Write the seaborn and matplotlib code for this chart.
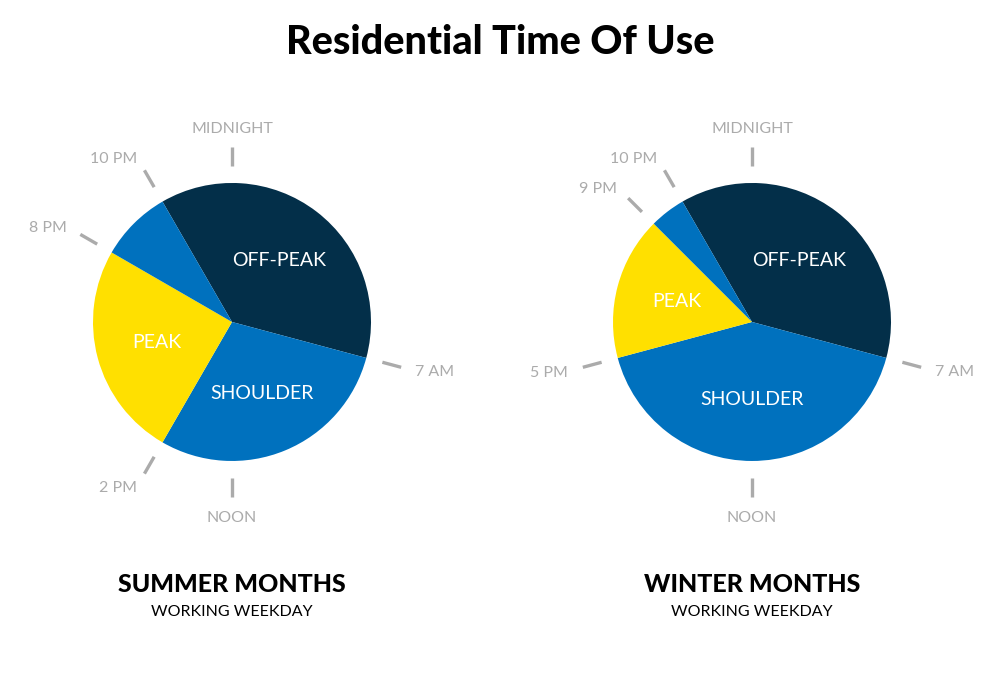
import numpy as np
import seaborn as sns
import matplotlib.pyplot as plt

# -----------------------------
# Data (hours of a 24h day, starting at 10 PM and going clockwise)
# -----------------------------
periods = ["OFF-PEAK", "SHOULDER", "PEAK", ""]
summer_hours = [9, 7, 6, 2]
winter_hours = [9, 10, 4, 1]

summer_ticks = [0, 7, 12, 14, 20, 22]
summer_tick_labels = ["MIDNIGHT", "7 AM", "NOON", "2 PM", "8 PM", "10 PM"]
winter_ticks = [0, 7, 12, 17, 21, 22]
winter_tick_labels = ["MIDNIGHT", "7 AM", "NOON", "5 PM", "9 PM", "10 PM"]

period_colors = ["#032F49", "#0071BE", "#FFE000", "#0071BE"]

# -----------------------------
# Plot
# -----------------------------
sns.set_theme(style="white")
plt.rcParams["font.family"] = ["Lato", "DejaVu Sans"]

fig = plt.figure(figsize=(10, 6.86), dpi=100)
fig.patch.set_facecolor("white")

gray = "#ABABAB"


def draw_clock(ax, hours, ticks, tick_labels):
    wedges, _ = ax.pie(
        hours,
        colors=period_colors,
        startangle=120,   # 10 PM on a 24h clock, midnight at top
        counterclock=False,
        wedgeprops={"linewidth": 0},
    )
    # wedge labels
    for w, name in zip(wedges, periods):
        if not name:
            continue
        mid = np.deg2rad((w.theta1 + w.theta2) / 2)
        r = 0.56
        ax.text(r * np.cos(mid), r * np.sin(mid), name, color="white",
                fontsize=14, ha="center", va="center")
    # hour ticks around the clock
    for h, lab in zip(ticks, tick_labels):
        ang = np.deg2rad(90 - h * 15)
        c, s = np.cos(ang), np.sin(ang)
        ax.plot([1.12 * c, 1.26 * c], [1.12 * s, 1.26 * s], color=gray,
                lw=2.4, solid_capstyle="butt")
        if c < -0.1:
            ha, r = "right", 1.37
        elif c > 0.1:
            ha, r = "left", 1.36
        else:
            ha, r = "center", 1.40
        ax.text(r * c, r * s, lab, color=gray, fontsize=11.5,
                ha=ha, va="center_baseline")
    ax.set_xlim(-1.5, 1.5)
    ax.set_ylim(-1.5, 1.5)
    ax.set_aspect("equal")
    ax.axis("off")


ax1 = fig.add_axes([0.0235, 0.2267, 0.417, 0.6079])
ax2 = fig.add_axes([0.5435, 0.2267, 0.417, 0.6079])
draw_clock(ax1, summer_hours, summer_ticks, summer_tick_labels)
draw_clock(ax2, winter_hours, winter_ticks, winter_tick_labels)

fig.text(0.5, 1 - 42 / 686, "Residential Time Of Use", fontsize=28.5,
         fontweight="black", ha="center", va="center", color="black")

for x, title in [(0.232, "SUMMER MONTHS"), (0.752, "WINTER MONTHS")]:
    fig.text(x, 1 - 585 / 686, title, fontsize=18, fontweight="black",
             ha="center", va="center", color="black")
    fig.text(x, 1 - 612 / 686, "WORKING WEEKDAY", fontsize=11.5,
             ha="center", va="center", color="black")

plt.savefig("out.png", dpi=100, facecolor="white")
